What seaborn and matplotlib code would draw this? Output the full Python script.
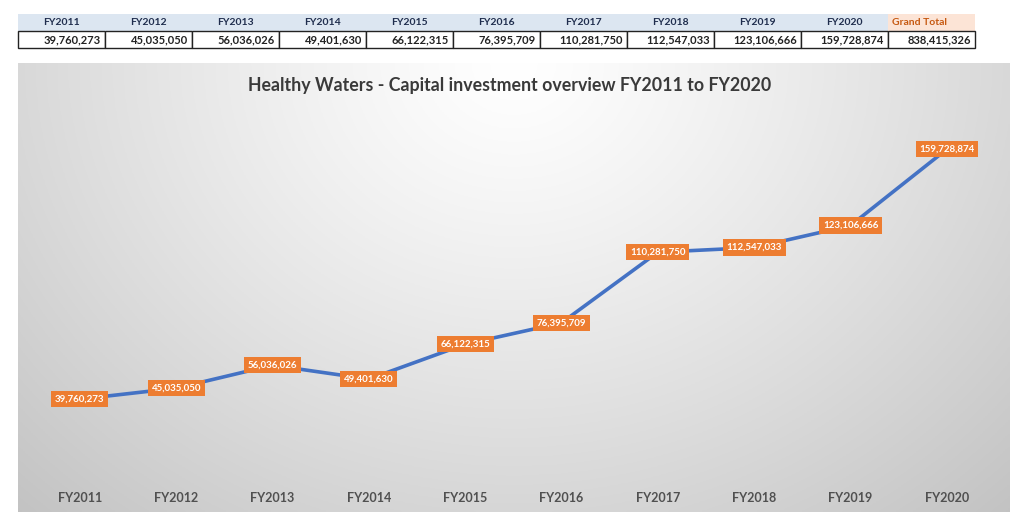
import numpy as np
import pandas as pd
import matplotlib
matplotlib.use("Agg")
import matplotlib.pyplot as plt
import seaborn as sns

years = ["FY2011", "FY2012", "FY2013", "FY2014", "FY2015",
         "FY2016", "FY2017", "FY2018", "FY2019", "FY2020"]
investment = [39760273, 45035050, 56036026, 49401630, 66122315,
              76395709, 110281750, 112547033, 123106666, 159728874]
grand_total = 838415326
title = "Healthy Waters - Capital investment overview FY2011 to FY2020"

sns.set_theme(style="white")
plt.rcParams["font.family"] = ["Lato", "DejaVu Sans"]

W, H = 1020, 529
fig = plt.figure(figsize=(W / 100, H / 100), dpi=100)
fig.patch.set_facecolor("white")

# ---- summary table at the top ----
tab = fig.add_axes([0, 0, 1, 1], facecolor="none")
tab.set_xlim(0, W)
tab.set_ylim(H, 0)
tab.axis("off")
headers = years + ["Grand Total"]
values = investment + [grand_total]
x0, cw = 18, 87
y_head, y_val, rh = 14, 31, 16.5
for i, (h, v) in enumerate(zip(headers, values)):
    left = x0 + i * cw
    fc = "#fce4d6" if h == "Grand Total" else "#dce6f1"
    tab.add_patch(plt.Rectangle((left, y_head), cw, rh, facecolor=fc, edgecolor="none"))
    tab.add_patch(plt.Rectangle((left, y_val), cw, rh, facecolor="white",
                                edgecolor="#222222", linewidth=1.0))
    if h == "Grand Total":
        tab.text(left + 4, y_head + rh / 2, h, ha="left", va="center",
                 fontsize=7.5, fontweight="bold", color="#c65911")
    else:
        tab.text(left + cw / 2, y_head + rh / 2, h, ha="center", va="center",
                 fontsize=7.5, fontweight="bold", color="#1f2d4d")
    tab.text(left + cw - 4, y_val + rh / 2 + 0.5, f"{v:,}", ha="right", va="center",
             fontsize=8, fontweight="bold", color="#222222")

# ---- chart area background (radial gradient) ----
cx0, cx1, cy0, cy1 = 18, 1010, 63, 512
bg = fig.add_axes([cx0 / W, 1 - cy1 / H, (cx1 - cx0) / W, (cy1 - cy0) / H])
gx, gy = np.meshgrid(np.linspace(-1, 1, 400), np.linspace(0, 1, 200))
r = np.sqrt((gx / 1.05) ** 2 + (gy / 1.0) ** 2)
shade = 1.0 - 0.24 * np.clip(r, 0, 1.4) ** 1.2 / 1.4 ** 1.2
shade = np.clip(shade, 0.72, 1.0)
bg.imshow(np.dstack([shade] * 3), aspect="auto", extent=(0, 1, 1, 0))
bg.set_xlim(0, 1)
bg.set_ylim(1, 0)
bg.axis("off")

fig.text(0.5, 1 - 86 / H, title, ha="center", va="center",
         fontsize=12.8, fontweight="bold", color="#3a3a3a")

# ---- line chart ----
px0, px1, py0, py1 = 31.7, 995, 107, 482
ax = fig.add_axes([px0 / W, 1 - py1 / H, (px1 - px0) / W, (py1 - py0) / H], facecolor="none")
df = pd.DataFrame({"pos": np.arange(len(years)), "value": investment})
sns.lineplot(data=df, x="pos", y="value", ax=ax, color="#4472c4", linewidth=2.6,
             marker="o", markersize=9, markerfacecolor="#a5a5a5",
             markeredgecolor="#7f7f7f", markeredgewidth=1)
for xp, v in zip(df["pos"], df["value"]):
    ax.text(xp, v, f"{v:,}", ha="center", va="center", fontsize=7,
            fontweight="bold", color="white", zorder=5,
            bbox=dict(boxstyle="square,pad=0.38", facecolor="#ed7d31", edgecolor="none"))
ax.set_xlim(-0.5, len(years) - 0.5)
ax.set_ylim(0, 180e6)
ax.set_xticks(df["pos"])
ax.set_xticklabels(years, fontsize=9, fontweight="bold", color="#505050")
ax.tick_params(axis="x", length=0, pad=7.5)
ax.set_yticks([])
ax.set_xlabel("")
ax.set_ylabel("")
for s in ax.spines.values():
    s.set_visible(False)

fig.savefig("out.png", dpi=100)
